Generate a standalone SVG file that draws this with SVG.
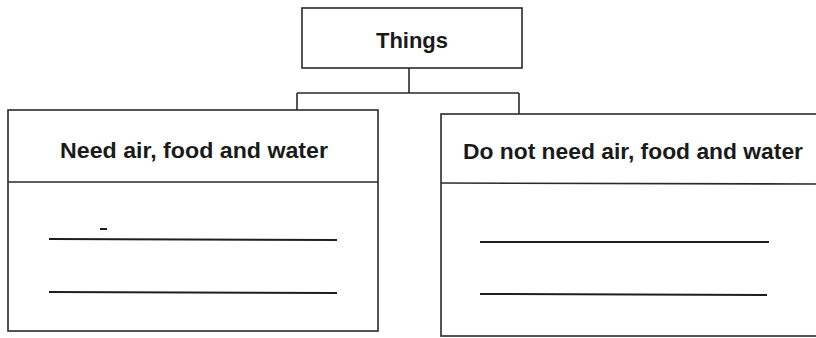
<svg xmlns="http://www.w3.org/2000/svg" width="816" height="338" viewBox="0 0 816 338">
<style>
.box{fill:#fff;stroke:#2a2a2a;stroke-width:1.6}
.div{stroke:#2a2a2a;stroke-width:1.6}
.blank{stroke:#1e1e1e;stroke-width:2}
.conn{fill:none;stroke:#2a2a2a;stroke-width:1.6}
.lbl{font-family:"Liberation Sans",Arial,sans-serif;font-weight:bold;font-size:22px;fill:#1a1a1a;text-anchor:middle}
</style>
<rect width="816" height="338" fill="#fff"/>
<g id="connectors">
<path class="conn" d="M409 68 V93 M297 93 H519 M297 93 V110 M519 93 V114"/>
</g>
<g id="things">
<rect class="box" x="302" y="8" width="220" height="60"/>
<text class="lbl" x="412" y="48">Things</text>
</g>
<g id="need">
<rect class="box" x="8" y="110" width="370" height="221"/>
<line class="div" x1="8" y1="182" x2="378" y2="182"/>
<text class="lbl" x="194" y="158" textLength="268" lengthAdjust="spacingAndGlyphs">Need air, food and water</text>
<line class="blank" x1="49" y1="239" x2="337" y2="240"/>
<line class="blank" x1="49" y1="292" x2="337" y2="293"/>
<line class="blank" x1="100" y1="229" x2="107" y2="229"/>
</g>
<g id="notneed">
<rect class="box" x="441" y="114" width="390" height="222"/>
<line class="div" x1="441" y1="183" x2="816" y2="184"/>
<text class="lbl" x="633" y="159" textLength="340" lengthAdjust="spacingAndGlyphs">Do not need air, food and water</text>
<line class="blank" x1="480" y1="242" x2="769" y2="242"/>
<line class="blank" x1="480" y1="294" x2="767" y2="295"/>
</g>
</svg>
